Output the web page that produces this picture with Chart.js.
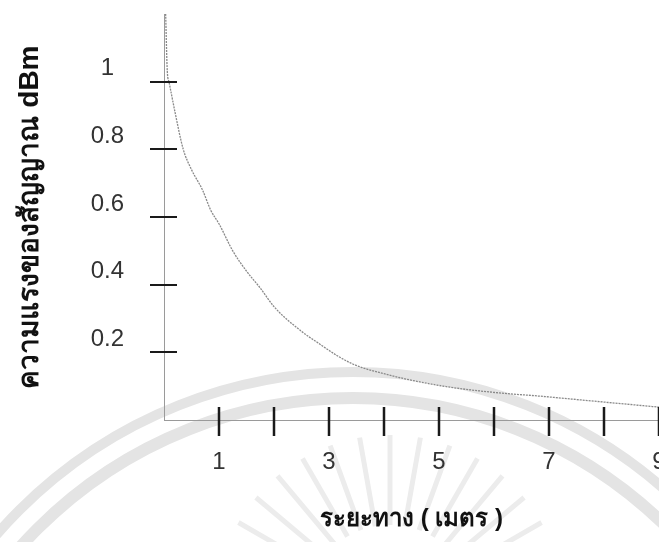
<!DOCTYPE html>
<html>
<head>
<meta charset="utf-8">
<script src="https://cdn.jsdelivr.net/npm/chart.js@4.4.1/dist/chart.umd.min.js"></script>
<style>
  html, body { margin: 0; padding: 0; background: #fff; }
  #wrap { width: 659px; height: 542px; position: relative; }
</style>
</head>
<body>
<div id="wrap"><canvas id="chartSignal"></canvas></div>
<script>
// distance (m) and signal strength
const distance = [0.03, 0.06, 0.09, 0.2, 0.35, 0.5, 0.7, 0.85, 1.0, 1.25, 1.5, 1.75, 2.0, 2.5, 2.8, 3.15, 3.4, 3.6, 4.0, 4.4, 5.2, 6.1, 6.8, 7.6, 8.2, 9.0];
const signal   = [1.2, 1.03, 1.0, 0.91, 0.80, 0.74, 0.68, 0.62, 0.58, 0.50, 0.44, 0.39, 0.335, 0.262, 0.228, 0.19, 0.168, 0.155, 0.137, 0.121, 0.097, 0.08, 0.071, 0.059, 0.05, 0.038];

const xTicks = [1, 2, 3, 4, 5, 6, 7, 8, 9];
const yTicks = [0.2, 0.4, 0.6, 0.8, 1];

const xTitle = 'ระยะทาง ( เมตร )';
const yTitle = 'ความแรงของสัญญาณ dBm';

(function () {
    'use strict';

    // faint watermark behind the plot (scanned page emblem)
    const watermark = {
        id: 'watermark',
        beforeDraw(chart) {
            const ctx = chart.ctx;
            ctx.save();
            ctx.strokeStyle = '#e4e4e4';
            ctx.lineWidth = 10;
            ctx.beginPath();
            ctx.arc(353, 844, 472, 0, Math.PI * 2);
            ctx.stroke();
            ctx.lineWidth = 12;
            ctx.beginPath();
            ctx.arc(353, 844, 446, 0, Math.PI * 2);
            ctx.stroke();
            ctx.strokeStyle = '#ececec';
            ctx.lineWidth = 5;
            for (let a = 200; a <= 340; a += 10) {
                const r = a * Math.PI / 180;
                ctx.beginPath();
                ctx.moveTo(390 + Math.cos(r) * 85, 610 + Math.sin(r) * 85);
                ctx.lineTo(390 + Math.cos(r) * 175, 610 + Math.sin(r) * 175);
                ctx.stroke();
            }
            ctx.restore();
        },
    };

    // tick marks that cross the axis lines
    const crossTicks = {
        id: 'crossTicks',
        afterDatasetsDraw(chart) {
            const { ctx, scales: { x, y } } = chart;
            ctx.save();
            ctx.strokeStyle = '#1a1a1a';
            ctx.lineWidth = 2.5;
            xTicks.forEach(v => {
                const px = Math.round(x.getPixelForValue(v));
                ctx.beginPath();
                ctx.moveTo(px, y.bottom - 13);
                ctx.lineTo(px, y.bottom + 16);
                ctx.stroke();
            });
            ctx.lineWidth = 2;
            yTicks.forEach(v => {
                const py = Math.round(y.getPixelForValue(v));
                ctx.beginPath();
                ctx.moveTo(x.left - 14, py);
                ctx.lineTo(x.left + 13, py);
                ctx.stroke();
            });
            ctx.restore();
        },
    };

    new Chart(document.getElementById('chartSignal'), {
        type: 'line',
        data: {
            datasets: [{
                data: distance.map((d, i) => ({ x: d, y: signal[i] })),
                borderColor: '#8a8a8a',
                borderWidth: 1.3,
                borderDash: [2, 1],
                pointRadius: 0,
                cubicInterpolationMode: 'monotone',
                fill: false,
            }],
        },
        options: {
            responsive: true,
            maintainAspectRatio: false,
            animation: false,
            layout: { padding: { top: 14, right: 0, left: 0, bottom: 0 } },
            plugins: {
                legend: { display: false },
                tooltip: { enabled: false },
            },
            scales: {
                x: {
                    type: 'linear',
                    min: 0,
                    max: 9,
                    afterFit(scale) {
                        scale.height = 122;
                        scale.paddingLeft = 0;
                        scale.paddingRight = 0;
                    },
                    grid: { display: false, drawTicks: false },
                    border: { display: true, color: '#9a9a9a', dash: [2, 4], width: 1 },
                    ticks: {
                        stepSize: 1,
                        autoSkip: false,
                        maxRotation: 0,
                        padding: 28,
                        color: '#333',
                        font: { family: 'Liberation Sans, Arial, sans-serif', size: 24 },
                        callback: v => (v % 2 === 1 ? String(v) : ''),
                    },
                    title: {
                        display: true,
                        text: xTitle,
                        color: '#111',
                        font: { size: 24, weight: 'bold' },
                        padding: { top: 0, bottom: 8 },
                    },
                },
                y: {
                    min: 0,
                    max: 1.2,
                    afterFit(scale) {
                        scale.width = 164;
                        scale.paddingTop = 0;
                        scale.paddingBottom = 0;
                    },
                    grid: { display: false, drawTicks: false },
                    border: { display: true, color: '#9a9a9a', dash: [2, 4], width: 1 },
                    ticks: {
                        stepSize: 0.2,
                        padding: 40,
                        crossAlign: 'center',
                        labelOffset: -13,
                        color: '#333',
                        font: { family: 'Liberation Sans, Arial, sans-serif', size: 24 },
                        callback: v => (v > 0.01 && v < 1.05 ? String(Math.round(v * 10) / 10) : ''),
                    },
                    title: {
                        display: true,
                        text: yTitle,
                        color: '#111',
                        font: { size: 28, weight: 'bold' },
                        padding: { top: 13, bottom: 0 },
                    },
                },
            },
        },
        plugins: [watermark, crossTicks],
    });
})();
</script>
</body>
</html>
